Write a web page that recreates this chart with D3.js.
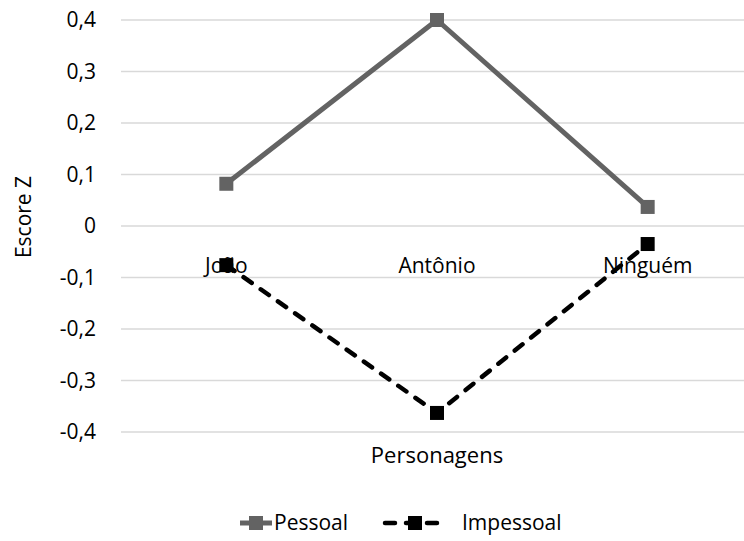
<!DOCTYPE html>
<html>
<head>
<meta charset="utf-8">
<script src="https://cdn.jsdelivr.net/npm/d3@7"></script>
<style>
  html, body { margin: 0; padding: 0; background: #fff; }
  svg { display: block; font-family: "Open Sans", "Liberation Sans", sans-serif; }
</style>
</head>
<body>
<svg id="chart" width="744" height="541"></svg>
<script>
const categories = ["João", "Antônio", "Ninguém"];
const seriesNames = ["Pessoal", "Impessoal"];
const pessoal = [0.082, 0.400, 0.037];
const impessoal = [-0.076, -0.363, -0.035];
const yTicks = [0.4, 0.3, 0.2, 0.1, 0, -0.1, -0.2, -0.3, -0.4];
const yTickLabels = ["0,4", "0,3", "0,2", "0,1", "0", "-0,1", "-0,2", "-0,3", "-0,4"];

(function () {
const svg = d3.select("#chart");
const pLeft = 121, pRight = 753, pTop = 20, pBottom = 432;
const fs = 21;

const x = d3.scaleBand().domain(categories).range([pLeft, pRight]);
const y = d3.scaleLinear().domain([-0.4, 0.4]).range([pBottom, pTop]);

// gridlines
svg.append("g").selectAll("line").data(yTicks).join("line")
  .attr("x1", pLeft).attr("x2", pRight)
  .attr("y1", d => y(d)).attr("y2", d => y(d))
  .attr("stroke", "#d9d9d9").attr("stroke-width", 1.3);

// y tick labels
svg.append("g").selectAll("text").data(yTicks).join("text")
  .attr("x", 96).attr("y", d => y(d))
  .attr("dy", "0.35em")
  .attr("text-anchor", "end")
  .attr("font-size", fs).attr("fill", "#000")
  .text((d, i) => yTickLabels[i]);

// y axis title
svg.append("text")
  .attr("transform", `translate(24,${y(0) - 9}) rotate(-90)`)
  .attr("text-anchor", "middle")
  .attr("dy", "0.35em")
  .attr("font-size", fs)
  .text("Escore Z");

// category labels at zero line
svg.append("g").selectAll("text").data(categories).join("text")
  .attr("x", d => x(d) + x.bandwidth() / 2)
  .attr("y", y(0) + 47)
  .attr("text-anchor", "middle")
  .attr("font-size", fs)
  .text(d => d);

// x axis title
svg.append("text")
  .attr("x", 437).attr("y", 463)
  .attr("text-anchor", "middle")
  .attr("font-size", 22)
  .text("Personagens");

const cx = d => x(d) + x.bandwidth() / 2;
const line = d3.line().x(d => cx(d.c)).y(d => y(d.v));

const series = [
  { name: seriesNames[0], values: pessoal, color: "#636363", dash: null, width: 5, cap: "butt" },
  { name: seriesNames[1], values: impessoal, color: "#000000", dash: "10,11", width: 4.5, cap: "round" }
];

series.forEach(s => {
  const pts = categories.map((c, i) => ({ c, v: s.values[i] }));
  svg.append("path").datum(pts)
    .attr("d", line)
    .attr("fill", "none")
    .attr("stroke", s.color)
    .attr("stroke-width", s.width)
    .attr("stroke-linecap", s.cap)
    .attr("stroke-linejoin", "round")
    .attr("stroke-dasharray", s.dash);
  svg.append("g").selectAll("rect").data(pts).join("rect")
    .attr("x", d => cx(d.c) - 7).attr("y", d => y(d.v) - 7)
    .attr("width", 14).attr("height", 14)
    .attr("fill", s.color);
});

// legend
const legY = 523;
const leg = [
  { s: series[0], x1: 240, x2: 272, tx: 274, dash: null },
  { s: series[1], x1: 385, x2: 445, tx: 462, dash: "10,11" }
];
leg.forEach(l => {
  svg.append("line")
    .attr("x1", l.x1).attr("x2", l.x2).attr("y1", legY).attr("y2", legY)
    .attr("stroke", l.s.color).attr("stroke-width", l.s.width)
    .attr("stroke-dasharray", l.dash)
    .attr("stroke-linecap", l.s.cap);
  svg.append("rect")
    .attr("x", (l.x1 + l.x2) / 2 - 7).attr("y", legY - 7)
    .attr("width", 14).attr("height", 14).attr("fill", l.s.color);
  svg.append("text")
    .attr("x", l.tx).attr("y", legY).attr("dy", "0.35em")
    .attr("font-size", fs)
    .text(l.s.name);
});
})();
</script>
</body>
</html>
